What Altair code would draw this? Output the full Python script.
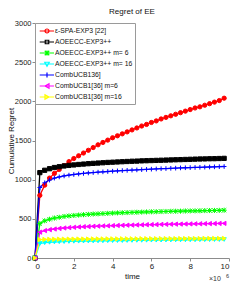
import altair as alt
import pandas as pd

# x grid (units of 1e6)
t = [0, 0.25, 0.5, 0.75, 1.0, 1.25, 1.5, 1.75, 2.0, 2.25, 2.5, 2.75, 3.0, 3.25, 3.5, 3.75,
     4.0, 4.25, 4.5, 4.75, 5.0, 5.25, 5.5, 5.75, 6.0, 6.25, 6.5, 6.75, 7.0, 7.25, 7.5, 7.75,
     8.0, 8.25, 8.5, 8.75, 9.0, 9.25, 9.5, 9.75]

names = ["ε-SPA-EXP3 [22]", "AOEECC-EXP3++", "AOEECC-EXP3++ m= 6", "AOEECC-EXP3++ m= 16",
         "CombUCB136]", "CombUCB1[36] m=6", "CombUCB1[36] m=16"]
colors = ["#ff0000", "#000000", "#00ff00", "#00ffff", "#0000ff", "#ff00ff", "#ffff00"]

red = [0, 800, 930, 1020, 1080, 1130, 1180, 1230, 1270, 1305, 1340, 1375, 1410, 1445, 1475, 1505,
       1535, 1560, 1585, 1610, 1635, 1660, 1685, 1705, 1730, 1750, 1775, 1795, 1815, 1835, 1855, 1875,
       1895, 1915, 1930, 1950, 1970, 1990, 2010, 2040]
black = [0, 1090, 1120, 1140, 1155, 1165, 1175, 1182, 1188, 1194, 1199, 1204, 1208, 1212, 1216, 1220,
         1223, 1226, 1229, 1232, 1235, 1237, 1240, 1242, 1244, 1246, 1248, 1250, 1252, 1254, 1256, 1258,
         1260, 1262, 1264, 1265, 1267, 1268, 1270, 1272]
green = [0, 440, 475, 495, 510, 520, 530, 537, 543, 548, 553, 557, 561, 564, 567, 570,
         573, 576, 578, 580, 582, 584, 586, 588, 590, 591, 593, 594, 596, 597, 598, 600,
         601, 602, 603, 605, 606, 607, 608, 610]
cyan = [0, 185, 195, 200, 204, 207, 209, 211, 213, 214, 215, 216, 217, 218, 219, 220,
        221, 222, 222, 223, 224, 225, 225, 226, 227, 227, 228, 229, 229, 230, 230, 231,
        232, 232, 233, 233, 234, 235, 235, 236]
blue = [0, 900, 960, 995, 1020, 1035, 1048, 1058, 1066, 1073, 1080, 1086, 1091, 1096, 1100, 1104,
        1108, 1112, 1116, 1119, 1122, 1125, 1128, 1131, 1134, 1137, 1140, 1142, 1145, 1147, 1150, 1152,
        1154, 1156, 1158, 1160, 1162, 1164, 1166, 1168]
magenta = [0, 330, 350, 362, 370, 377, 383, 388, 392, 396, 399, 402, 405, 407, 409, 411,
           413, 415, 417, 419, 420, 422, 423, 425, 426, 427, 429, 430, 431, 432, 433, 434,
           435, 436, 437, 438, 439, 440, 441, 442]
yellow = [0, 235, 237, 238, 239, 240, 240, 241, 241, 242, 242, 242, 243, 243, 243, 244,
          244, 244, 245, 245, 245, 245, 246, 246, 246, 246, 247, 247, 247, 247, 248, 248,
          248, 248, 248, 249, 249, 249, 249, 250]

series_values = [red, black, green, cyan, blue, magenta, yellow]

rows = []
for k, (nm, vals) in enumerate(zip(names, series_values)):
    for tt, vv in zip(t, vals):
        rows.append({"t": tt, "v": vv, "series": nm, "k": k})
df = pd.DataFrame(rows)

# marker shapes in the plot
plot_shapes = [
    "circle",
    "square",
    "M-1,-1L1,1M1,-1L-1,1M0,-1.2V1.2M-1.2,0H1.2",
    "triangle-down",
    "M0,-1.1V1.1M-1.1,0H1.1",
    "triangle-left",
    "triangle-right",
]
# legend symbols: line with marker (scale 5 px per unit)
legend_shapes = [
    "M-0.66,0H2.2M1.2,0A0.4,0.4 0 1,1 0.4,0A0.4,0.4 0 1,1 1.2,0Z",
    "M-0.66,0H2.2M0.45,-0.35H1.15V0.35H0.45Z",
    "M-0.66,0H2.2M0.35,-0.45L1.25,0.45M1.25,-0.45L0.35,0.45M0.8,-0.5V0.5",
    "M-0.66,0H2.2M0.35,-0.35H1.25L0.8,0.45Z",
    "M-0.66,0H2.2M0.8,-0.5V0.5",
    "M-0.66,0H2.2M1.2,-0.45V0.45L0.4,0Z",
    "M-0.66,0H2.2M0.4,-0.45V0.45L1.2,0Z",
]

font = "Liberation Sans"

xenc = alt.X("t:Q", scale=alt.Scale(domain=[0, 10], nice=False),
             axis=alt.Axis(values=[0, 2, 4, 6, 8, 10], title="time", format="d"))
yenc = alt.Y("v:Q", scale=alt.Scale(domain=[0, 3000], nice=False),
             axis=alt.Axis(values=[0, 500, 1000, 1500, 2000, 2500, 3000], title="Cumulative Regret",
                           format="d", titleX=-20))
cenc = alt.Color("series:N", scale=alt.Scale(domain=names, range=colors), legend=None)

base = alt.Chart(df)

lines = base.mark_line(strokeWidth=1.3).encode(x=xenc, y=yenc, color=cenc, order="t:Q")
points = base.mark_point(filled=True, strokeWidth=1.0, size=18, opacity=1).encode(
    x=xenc, y=yenc, color=cenc,
    stroke=alt.Stroke("series:N", scale=alt.Scale(domain=names, range=colors), legend=None),
    shape=alt.Shape("series:N", scale=alt.Scale(domain=names, range=plot_shapes), legend=None),
)

leg = alt.Legend(title=None, orient="none", legendX=0, legendY=0,
                 fillColor="white", strokeColor="#9a9a9a", padding=2,
                 labelFont=font, labelFontSize=6.8, labelColor="#111", labelOffset=6,
                 labelLimit=300, symbolSize=100, symbolStrokeWidth=1.2, rowPadding=-3,
                 symbolFillColor="transparent")
legend_layer = base.mark_point(filled=False, strokeWidth=1.2, opacity=1).encode(
    x=xenc, y=yenc,
    stroke=alt.Stroke("series:N", scale=alt.Scale(domain=names, range=colors), legend=leg),
    shape=alt.Shape("series:N", scale=alt.Scale(domain=names, range=legend_shapes), legend=leg),
).transform_filter("datum.t < 0")

exp_base = ["×10"]
exp_pow = ["6"]
t1 = alt.Chart(pd.DataFrame({"s": exp_base})).mark_text(
    align="left", baseline="middle", font=font, fontSize=7, color="#333").encode(
    x=alt.value(174), y=alt.value(256), text="s:N")
t2 = alt.Chart(pd.DataFrame({"s": exp_pow})).mark_text(
    align="left", baseline="middle", font=font, fontSize=5.5, color="#333").encode(
    x=alt.value(191), y=alt.value(253), text="s:N")

chart = alt.layer(lines, points, legend_layer, t1, t2).resolve_scale(
    shape="independent", stroke="independent"
).properties(
    width=194, height=235,
    title=alt.TitleParams("Regret of EE", font=font, fontSize=8, fontWeight="normal", color="#111", offset=3),
    autosize=alt.AutoSizeParams(type="none"),
    padding={"left": 27, "top": 15, "right": 12, "bottom": 27},
).configure_view(stroke=None).configure_axis(
    domainColor="#8c8c8c", tickColor="#8c8c8c", tickSize=3, labelFont=font, labelFontSize=7.5,
    labelColor="#222", titleFont=font, titleFontSize=8, titleFontWeight="normal", titleColor="#111",
    grid=False, labelPadding=1,
).configure_axisX(titlePadding=2, labelFontSize=8).configure_axisY(titlePadding=1)

chart.save("out.html", embed_options={"renderer": "svg", "actions": False})
